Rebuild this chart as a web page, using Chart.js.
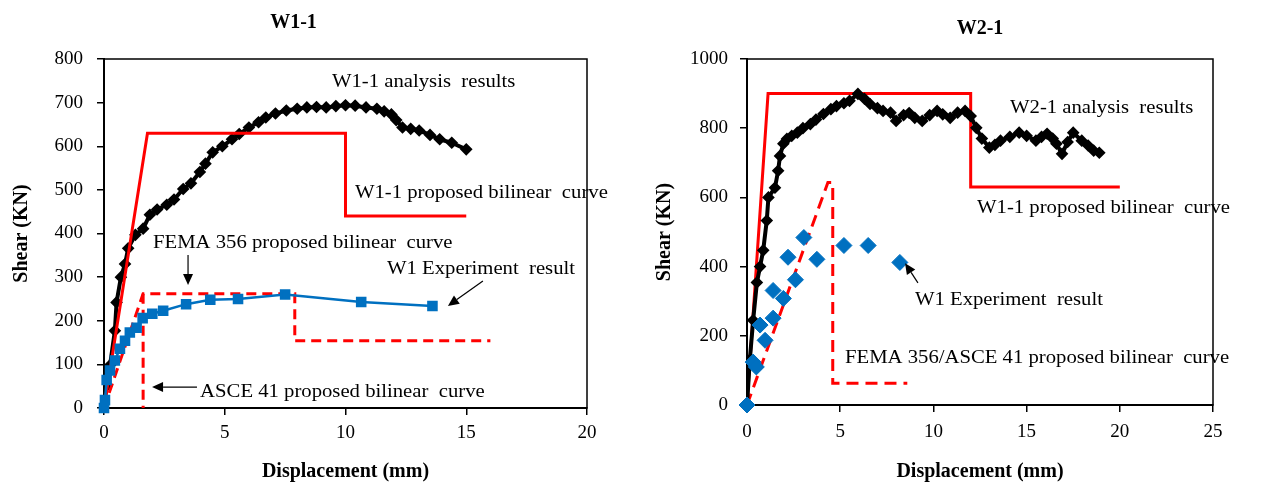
<!DOCTYPE html>
<html>
<head>
<meta charset="utf-8">
<title>W1-1 / W2-1 shear - displacement</title>
<script src="https://cdn.jsdelivr.net/npm/chart.js@4.4.1/dist/chart.umd.min.js"></script>
<style>
  body { margin: 0; background: #fff; }
  canvas { position: absolute; top: 0; }
  #chartW1 { left: 0; }
  #chartW2 { left: 640px; }
</style>
</head>
<body>
<canvas id="chartW1" width="640" height="484"></canvas>
<canvas id="chartW2" width="639" height="484"></canvas>
<script>
// ---- W1-1 data (displacement mm / shear KN) ----
var w1AnalysisX = [0, 0.1, 0.25, 0.45, 0.52, 0.7, 0.87, 1.0, 1.3, 1.62, 1.9, 2.2, 2.6, 2.9, 3.28, 3.6, 3.97, 4.2, 4.5, 4.9, 5.3, 5.6, 6.0, 6.4, 6.7, 7.1, 7.55, 8.0, 8.4, 8.8, 9.2, 9.6, 10.0, 10.4, 10.85, 11.3, 11.6, 11.9, 12.1, 12.36, 12.7, 13.05, 13.5, 13.9, 14.4, 15.0];
var w1AnalysisY = [0, 50, 98, 177, 242, 300, 330, 366, 397, 411, 443, 455, 466, 478, 502, 515, 541, 560, 586, 600, 616, 628, 643, 655, 666, 675, 682, 686, 689, 690, 689, 692, 694, 693, 689, 686, 680, 673, 660, 643, 640, 636, 626, 616, 608, 593];
var w1ExpX = [0, 0.04, 0.11, 0.25, 0.45, 0.66, 0.87, 1.07, 1.35, 1.6, 2.0, 2.45, 3.4, 4.4, 5.55, 7.5, 10.65, 13.6];
var w1ExpY = [0, 18, 64, 86, 109, 136, 154, 173, 184, 206, 216, 223, 238, 248, 250, 260, 243, 234];
var w1BilinearX = [0, 1.8, 10, 10, 15];
var w1BilinearY = [0, 630, 630, 440, 440];
var w1FemaX = [0, 1.62, 7.9, 7.9, 16];
var w1FemaY = [0, 262, 262, 154, 154];
var w1AsceX = [1.62, 1.62];
var w1AsceY = [262, 0];
var w1XTicks = [0, 5, 10, 15, 20];
var w1YTicks = [0, 100, 200, 300, 400, 500, 600, 700, 800];

// ---- W2-1 data ----
var w2AnalysisX = [0, 0.15, 0.33, 0.53, 0.7, 0.87, 1.06, 1.15, 1.5, 1.67, 1.77, 1.95, 2.14, 2.4, 2.7, 3.0, 3.4, 3.7, 4.1, 4.5, 4.8, 5.2, 5.5, 5.95, 6.3, 6.6, 7.0, 7.3, 7.7, 8.0, 8.4, 8.7, 9.0, 9.4, 9.8, 10.2, 10.5, 10.9, 11.3, 11.7, 12.0, 12.3, 12.6, 13.0, 13.3, 13.6, 14.1, 14.6, 15.0, 15.5, 15.8, 16.1, 16.4, 16.6, 16.9, 17.2, 17.5, 17.96, 18.3, 18.6, 18.9];
var w2AnalysisY = [0, 130, 245, 354, 400, 447, 533, 600, 628, 677, 720, 755, 769, 778, 787, 800, 812, 825, 841, 855, 864, 872, 879, 899, 885, 870, 858, 850, 845, 821, 838, 844, 830, 821, 838, 850, 840, 830, 845, 850, 835, 801, 770, 744, 752, 764, 775, 787, 778, 764, 775, 784, 770, 755, 726, 760, 787, 764, 750, 735, 729];
var w2ExpX = [0, 0.33, 0.5, 0.7, 0.97, 1.4, 1.4, 1.95, 2.2, 2.6, 3.05, 3.75, 5.2, 6.5, 8.2];
var w2ExpY = [0, 124, 110, 231, 187, 251, 331, 308, 427, 362, 484, 421, 461, 461, 412];
var w2BilinearX = [0, 1.13, 12, 12, 20];
var w2BilinearY = [0, 900, 900, 630, 630];
var w2FemaX = [0, 4.34, 4.6, 4.6, 8.6];
var w2FemaY = [0, 643, 643, 63, 63];
var w2XTicks = [0, 5, 10, 15, 20, 25];
var w2YTicks = [0, 200, 400, 600, 800, 1000];

var RED = '#FF0000';
var BLUE = '#0070C0';
var SERIF = '"Liberation Serif", "Times New Roman", serif';

function pts(xs, ys) {
    return xs.map(function (x, i) { return { x: x, y: ys[i] }; });
}

// frame box, free text and arrows
var notesPlugin = {
    id: 'notes',
    beforeDatasetsDraw: function (chart) {
        var a = chart.chartArea, ctx = chart.ctx;
        ctx.save();
        ctx.strokeStyle = '#000';
        ctx.lineWidth = 1.5;
        ctx.strokeRect(a.left, a.top, a.right - a.left, a.bottom - a.top);
        ctx.restore();
    },
    afterDatasetsDraw: function (chart, args, opts) {
        var ctx = chart.ctx, xs = chart.scales.x, ys = chart.scales.y;
        ctx.save();
        ctx.fillStyle = '#000';
        ctx.strokeStyle = '#000';
        ctx.font = '18px ' + SERIF;
        ctx.textBaseline = 'middle';
        (opts.labels || []).forEach(function (l) {
            ctx.save();
            ctx.translate(xs.getPixelForValue(l.x), ys.getPixelForValue(l.y));
            ctx.scale(1.15, 1);
            ctx.fillText(l.text, 0, 0);
            ctx.restore();
        });
        (opts.arrows || []).forEach(function (ar) {
            var x1 = xs.getPixelForValue(ar.from[0]), y1 = ys.getPixelForValue(ar.from[1]);
            var x2 = xs.getPixelForValue(ar.to[0]), y2 = ys.getPixelForValue(ar.to[1]);
            var ang = Math.atan2(y2 - y1, x2 - x1), len = 11, hw = 5;
            ctx.lineWidth = 1.2;
            ctx.beginPath();
            ctx.moveTo(x1, y1);
            ctx.lineTo(x2 - Math.cos(ang) * len, y2 - Math.sin(ang) * len);
            ctx.stroke();
            ctx.beginPath();
            ctx.moveTo(x2, y2);
            ctx.lineTo(x2 - Math.cos(ang) * len - Math.sin(ang) * hw, y2 - Math.sin(ang) * len + Math.cos(ang) * hw);
            ctx.lineTo(x2 - Math.cos(ang) * len + Math.sin(ang) * hw, y2 - Math.sin(ang) * len - Math.cos(ang) * hw);
            ctx.closePath();
            ctx.fill();
        });
        ctx.restore();
    }
};

function makeScales(c) {
    var tickFont = { family: SERIF, size: 19 };
    var titleFont = { family: SERIF, size: 20, weight: 'bold' };
    var grid = { display: true, drawOnChartArea: false, drawTicks: true, tickLength: 7, color: '#000', lineWidth: 1.5 };
    var border = { display: true, color: '#000', width: 2 };
    var plain = function (v) { return String(v); };
    return {
        x: {
            type: 'linear', min: 0, max: c.xMax,
            grid: grid, border: border,
            ticks: { color: '#000', font: tickFont, padding: c.xPad, callback: plain },
            afterBuildTicks: function (s) { s.ticks = c.xTicks.map(function (v) { return { value: v }; }); },
            afterFit: function (s) { s.height = c.xHeight; },
            title: { display: true, text: 'Displacement (mm)', color: '#000', font: titleFont, padding: { top: 0, bottom: 0 } }
        },
        y: {
            type: 'linear', min: 0, max: c.yMax,
            grid: grid, border: border,
            ticks: { color: '#000', font: tickFont, padding: c.yPad, callback: plain },
            afterBuildTicks: function (s) { s.ticks = c.yTicks.map(function (v) { return { value: v }; }); },
            afterFit: function (s) { s.width = c.yWidth; },
            title: { display: true, text: 'Shear (KN)', color: '#000', font: titleFont, padding: { top: c.yTitlePad, bottom: 0 } }
        }
    };
}

function analysisSet(xs, ys) {
    return {
        data: pts(xs, ys), showLine: true, borderColor: '#000', borderWidth: 4,
        pointStyle: 'rectRot', pointRadius: 3.5, pointBackgroundColor: '#000', pointBorderColor: '#000'
    };
}
function redSet(xs, ys, dash) {
    return {
        data: pts(xs, ys), showLine: true, borderColor: RED, borderWidth: 3,
        borderDash: dash || [], pointRadius: 0, borderCapStyle: 'butt'
    };
}

new Chart(document.getElementById('chartW1'), {
    type: 'scatter',
    data: {
        datasets: [
            {
                data: pts(w1ExpX, w1ExpY), showLine: true, borderColor: BLUE, borderWidth: 2.5, clip: 8,
                pointStyle: 'rect', pointRadius: 5.7, pointBackgroundColor: BLUE, pointBorderColor: BLUE
            },
            redSet(w1FemaX, w1FemaY, [10, 6]),
            redSet(w1AsceX, w1AsceY, [10, 6]),
            redSet(w1BilinearX, w1BilinearY),
            analysisSet(w1AnalysisX, w1AnalysisY)
        ]
    },
    options: {
        responsive: false, animation: false,
        layout: { padding: { left: 0, right: 53, top: 0, bottom: 0 } },
        scales: makeScales({ xMax: 20, yMax: 800, xTicks: w1XTicks, yTicks: w1YTicks,
            xHeight: 76, yWidth: 104, xPad: 7, yPad: 14, yTitlePad: 10 }),
        plugins: {
            legend: { display: false }, tooltip: { enabled: false },
            title: { display: true, text: 'W1-1', color: '#000', font: { family: SERIF, size: 20, weight: 'bold' },
                padding: { top: 11, bottom: 24 } },
            notes: {
                labels: [
                    { text: 'W1-1 analysis  results', x: 9.44, y: 747 },
                    { text: 'W1-1 proposed bilinear  curve', x: 10.39, y: 493 },
                    { text: 'FEMA 356 proposed bilinear  curve', x: 2.03, y: 378 },
                    { text: 'W1 Experiment  result', x: 11.72, y: 319 },
                    { text: 'ASCE 41 proposed bilinear  curve', x: 3.98, y: 37 }
                ],
                arrows: [
                    { from: [3.48, 351], to: [3.48, 282] },
                    { from: [15.69, 291], to: [14.24, 234] },
                    { from: [3.85, 48], to: [1.99, 48] }
                ]
            }
        }
    },
    plugins: [notesPlugin]
});

new Chart(document.getElementById('chartW2'), {
    type: 'scatter',
    data: {
        datasets: [
            {
                data: pts(w2ExpX, w2ExpY), showLine: false, clip: 10,
                pointStyle: 'rectRot', pointRadius: 8, pointBackgroundColor: BLUE, pointBorderColor: BLUE
            },
            analysisSet(w2AnalysisX, w2AnalysisY),
            redSet(w2FemaX, w2FemaY, [12, 7]),
            redSet(w2BilinearX, w2BilinearY)
        ]
    },
    options: {
        responsive: false, animation: false,
        layout: { padding: { left: 0, right: 66, top: 0, bottom: 0 } },
        scales: makeScales({ xMax: 25, yMax: 1000, xTicks: w2XTicks, yTicks: w2YTicks,
            xHeight: 79, yWidth: 107, xPad: 9, yPad: 12, yTitlePad: 13 }),
        plugins: {
            legend: { display: false }, tooltip: { enabled: false },
            title: { display: true, fullSize: false, text: 'W2-1', color: '#000', font: { family: SERIF, size: 20, weight: 'bold' },
                padding: { top: 17, bottom: 18 } },
            notes: {
                labels: [
                    { text: 'W2-1 analysis  results', x: 14.11, y: 858 },
                    { text: 'W1-1 proposed bilinear  curve', x: 12.34, y: 569 },
                    { text: 'W1 Experiment  result', x: 9.01, y: 303 },
                    { text: 'FEMA 356/ASCE 41 proposed bilinear  curve', x: 5.26, y: 136 }
                ],
                arrows: [
                    { from: [9.17, 353], to: [8.48, 410] }
                ]
            }
        }
    },
    plugins: [notesPlugin]
});
</script>
</body>
</html>
